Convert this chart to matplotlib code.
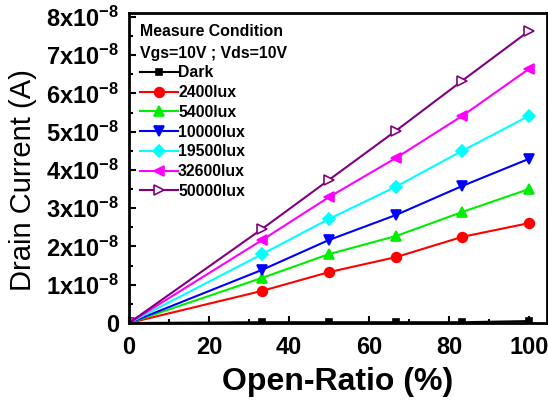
import numpy as np
import matplotlib
matplotlib.use("Agg")
import matplotlib.pyplot as plt
from matplotlib.ticker import MultipleLocator, FuncFormatter

plt.rcParams['font.family'] = ['Liberation Sans', 'DejaVu Sans']
plt.rcParams['mathtext.fontset'] = 'custom'
plt.rcParams['mathtext.rm'] = 'Liberation Sans:bold'
plt.rcParams['mathtext.bf'] = 'Liberation Sans:bold'
plt.rcParams['mathtext.it'] = 'Liberation Sans:bold'

# Données (courant en unités de 1e-8 A)
open_ratio = [0, 33.3, 50, 66.7, 83.3, 100]
labels = ["Dark", "2400lux", "5400lux", "10000lux", "19500lux", "32600lux", "50000lux"]
dark = [0, 0.02, 0.02, 0.02, 0.02, 0.05]
lux_2400 = [0, 0.84, 1.33, 1.72, 2.25, 2.61]
lux_5400 = [0, 1.18, 1.80, 2.27, 2.90, 3.50]
lux_10000 = [0, 1.39, 2.17, 2.82, 3.58, 4.29]
lux_19500 = [0, 1.80, 2.72, 3.56, 4.50, 5.41]
lux_32600 = [0, 2.17, 3.29, 4.31, 5.41, 6.64]
lux_50000 = [0, 2.46, 3.74, 5.02, 6.33, 7.63]

series = [dark, lux_2400, lux_5400, lux_10000, lux_19500, lux_32600, lux_50000]
couleurs = ["black", "red", "#00ee00", "blue", "cyan", "magenta", "purple"]
marqueurs = ["s", "o", "^", "v", "D", "<", ">"]

fig = plt.figure(figsize=(5.48, 4.01), dpi=100)
# axe : gauche 129 px, droite 547 px, bas 323 px, haut 13 px
ax = fig.add_axes([129/548, 1-323/401, 418/548, 310/401])

for y, lab, c, m in zip(series, labels, couleurs, marqueurs):
    vals = np.array(y) * 1e-8
    face = "white" if m == ">" else c
    ms = 6 if m == "D" else 7
    if m == "s":
        ms = 5
    ax.plot(open_ratio, vals, color=c, marker=m, ms=ms, mfc=face, mec=c,
            mew=1.2, lw=1.5, label=lab, zorder=2)

ax.set_xlim(0, 104.5)
ax.set_ylim(0, 8.1e-8)
ax.xaxis.set_major_locator(MultipleLocator(20))
ax.xaxis.set_minor_locator(MultipleLocator(10))
ax.yaxis.set_major_locator(MultipleLocator(1e-8))
ax.yaxis.set_minor_locator(MultipleLocator(0.5e-8))


def fmt(v, pos):
    n = int(round(v / 1e-8))
    if n == 0:
        return "0"
    return r"%dx10$^{-8}$" % n


ax.yaxis.set_major_formatter(FuncFormatter(fmt))
ax.tick_params(which='both', direction='in', width=1.5)
ax.tick_params(which='major', length=5)
ax.tick_params(which='minor', length=3)
ax.tick_params(axis='x', which='major', pad=9)
ax.tick_params(axis='y', which='major', pad=7)
for t in ax.get_xticklabels() + ax.get_yticklabels():
    t.set_fontweight('bold')
    t.set_fontsize(17)
for s in ax.spines.values():
    s.set_linewidth(2)
    s.set_zorder(3)

ax.set_xlabel("Open-Ratio (%)", fontsize=23, fontweight='bold', labelpad=6)
ax.set_ylabel("Drain Current (A)", fontsize=21, fontweight='normal')
ax.yaxis.set_label_coords(-0.22, 0.461)

leg = ax.legend(title="Measure Condition\nVgs=10V ; Vds=10V", loc="upper left",
                frameon=False, prop={'size': 11.4, 'weight': 'bold'},
                title_fontproperties={'size': 11.4, 'weight': 'bold'},
                alignment="left", handlelength=2.4, handletextpad=0.0,
                labelspacing=0.3, borderaxespad=0.3, borderpad=0.4)
leg.get_title().set_linespacing(1.55)

fig.savefig("out.png", dpi=100)
